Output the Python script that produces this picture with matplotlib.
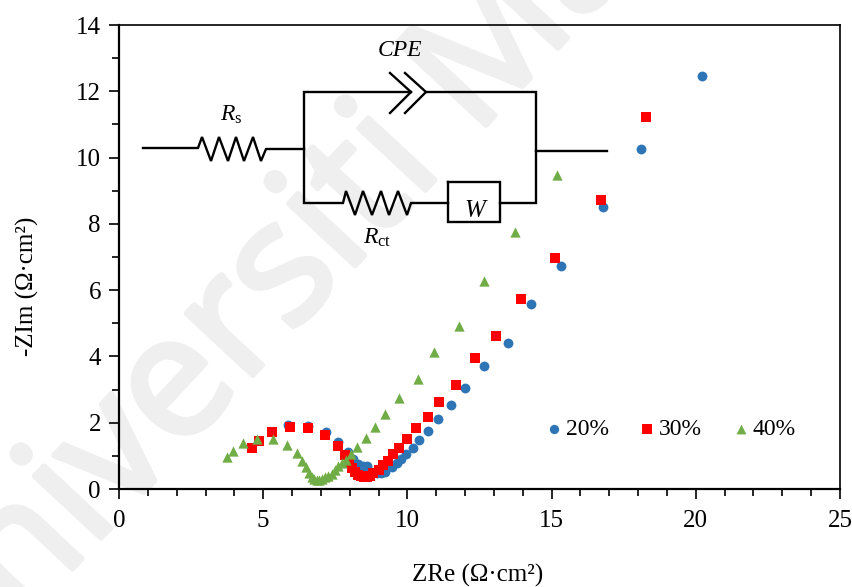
import numpy as np
import matplotlib
matplotlib.use("Agg")
import matplotlib.pyplot as plt
import matplotlib.patheffects as pe

plt.rcParams['font.family'] = ['Liberation Serif', 'DejaVu Serif']
plt.rcParams['mathtext.fontset'] = 'custom'
plt.rcParams['mathtext.it'] = 'Liberation Serif:italic'
plt.rcParams['mathtext.rm'] = 'Liberation Serif'

# series
x20 = [5.87, 6.57, 7.18, 7.59, 7.93, 8.13, 8.3, 8.45, 8.59, 8.75, 8.93, 9.08, 9.22, 9.45, 9.63, 9.78, 9.94, 10.18, 10.4, 10.73, 11.05, 11.51, 12.0, 12.66, 13.49, 14.29, 15.33, 16.78, 18.1, 20.21]
y20 = [1.93, 1.91, 1.73, 1.43, 1.13, 0.9, 0.75, 0.68, 0.69, 0.5, 0.47, 0.49, 0.52, 0.65, 0.79, 0.9, 1.05, 1.25, 1.47, 1.75, 2.12, 2.53, 3.05, 3.71, 4.4, 5.58, 6.73, 8.51, 10.26, 12.46]
x30 = [4.6, 4.87, 5.3, 5.93, 6.57, 7.14, 7.59, 7.83, 7.97, 8.07, 8.18, 8.3, 8.4, 8.5, 8.6, 8.7, 8.82, 9.0, 9.14, 9.33, 9.51, 9.72, 10.0, 10.3, 10.71, 11.1, 11.68, 12.34, 13.07, 13.94, 15.12, 16.71, 18.27]
y30 = [1.23, 1.46, 1.72, 1.87, 1.84, 1.63, 1.3, 1.04, 0.79, 0.62, 0.5, 0.42, 0.38, 0.37, 0.37, 0.4, 0.47, 0.57, 0.72, 0.85, 1.05, 1.25, 1.5, 1.83, 2.16, 2.62, 3.14, 3.95, 4.62, 5.73, 6.97, 8.72, 11.22]
x40 = [3.73, 3.95, 4.29, 4.8, 5.34, 5.81, 6.16, 6.36, 6.48, 6.6, 6.68, 6.76, 6.85, 6.95, 7.04, 7.14, 7.26, 7.37, 7.49, 7.58, 7.72, 7.87, 8.03, 8.26, 8.55, 8.88, 9.24, 9.7, 10.37, 10.93, 11.79, 12.66, 13.73, 15.19]
y40 = [0.96, 1.15, 1.38, 1.52, 1.5, 1.33, 1.08, 0.84, 0.65, 0.49, 0.37, 0.31, 0.27, 0.27, 0.3, 0.35, 0.39, 0.45, 0.57, 0.69, 0.79, 0.87, 1.06, 1.28, 1.53, 1.86, 2.26, 2.75, 3.32, 4.12, 4.92, 6.27, 7.75, 9.47]
labels = ['20%', '30%', '40%']

# circuit sketch, in picture pixels
lead_left = [(143, 148), (198, 148), (202, 137), (211, 161), (219, 137), (228, 161), (236, 137), (244, 161), (253, 137), (261, 161), (266, 149), (304, 149)]
branch_top = [(411, 92), (304, 92), (304, 203), (343, 203), (346, 191), (355, 215), (363, 191), (372, 215), (381, 191), (389, 215), (398, 191), (407, 215), (411, 203), (448, 203)]
branch_right = [(426, 92), (536, 92), (536, 203), (500, 203)]
lead_right = [(536, 151), (607, 151)]
chevron1 = [(390, 73), (411, 92), (390, 113)]
chevron2 = [(405, 73), (426, 92), (405, 113)]
box_w = [(448, 182), (500, 182), (500, 222), (448, 222), (448, 182)]
circuit = [lead_left, branch_top, branch_right, lead_right, chevron1, chevron2, box_w]

fig = plt.figure(figsize=(8.53, 5.87), dpi=100)

# overlay in pixels for the watermark and circuit
bg = fig.add_axes([0, 0, 1, 1], zorder=0)
bg.set_xlim(0, 853)
bg.set_ylim(587, 0)
bg.axis('off')
wm = bg.text(365, 190, 'Universiti Malaya', fontsize=122, color='#efefef', rotation=47,
             rotation_mode='anchor', ha='center', va='center', family='Open Sans')
wm.set_path_effects([pe.withStroke(linewidth=4, foreground='#efefef')])

ax = fig.add_axes([119/853, 1-489/587, (840-119)/853, (489-25)/587], zorder=1)
ax.patch.set_alpha(0)

h20 = ax.scatter(x20, y20, s=50, c='#2e75b6', marker='o', linewidths=0, zorder=3, clip_on=False)
h30 = ax.scatter(x30, y30, s=60, c='#ff0000', marker='s', linewidths=0, zorder=4, clip_on=False)
h40 = ax.scatter(x40, y40, s=55, c='#70ad47', marker='^', linewidths=0, zorder=5, clip_on=False)

ax.set_xlim(0, 25)
ax.set_ylim(0, 14)
ax.set_xticks(np.arange(0, 26, 5))
ax.set_xticks(np.arange(0, 25.1, 1), minor=True)
ax.set_yticks(np.arange(0, 15, 2))
ax.set_yticks(np.arange(0, 14.1, 1), minor=True)
ax.tick_params(which='both', direction='out', length=5, width=1.2, labelsize=18)
ax.tick_params(axis='y', which='major', length=7, pad=6)
ax.tick_params(axis='x', which='major', length=7, pad=8)
for s in ['left', 'bottom']:
    ax.spines[s].set_linewidth(1.6)
for s in ['top', 'right']:
    ax.spines[s].set_linewidth(1.2)
ax.set_xlabel('ZRe (Ω·cm²)', fontsize=18)
ax.xaxis.set_label_coords(0.498, -0.161)
ax.set_ylabel('-ZIm (Ω·cm²)', fontsize=18)
ax.yaxis.set_label_coords(-0.111, 0.4375)

ax.legend([h20, h30, h40], labels, ncol=3, frameon=False, fontsize=17, scatterpoints=1,
          markerscale=0.95, handlelength=0.6, handletextpad=0.2, columnspacing=1.34,
          borderpad=0, borderaxespad=0, loc='center', bbox_to_anchor=(0.766, 0.129))

top = fig.add_axes([0, 0, 1, 1], zorder=2)
top.set_xlim(0, 853)
top.set_ylim(587, 0)
top.axis('off')
for part in circuit:
    xs, ys = zip(*part)
    top.plot(xs, ys, color='black', lw=1.7, solid_joinstyle='miter')
top.text(400, 50, 'CPE', fontsize=17, style='italic', ha='center', va='center')
top.text(475, 211, 'W', fontsize=18, style='italic', ha='center', va='center')
top.text(231, 115, r'$R_{\mathrm{s}}$', fontsize=17, ha='center', va='center')
top.text(377, 238, r'$R_{\mathrm{ct}}$', fontsize=17, ha='center', va='center')

fig.savefig('out.png', dpi=100)
